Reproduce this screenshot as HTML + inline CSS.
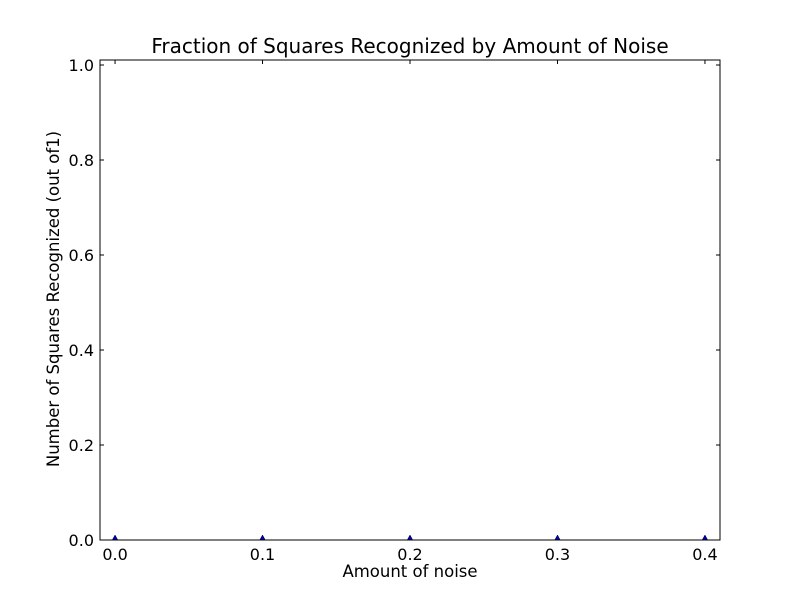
<!DOCTYPE html>
<html><head><meta charset="utf-8"><style>
body{margin:0;background:#fff;}
svg text{font-family:"DejaVu Sans","Liberation Sans",sans-serif;fill:#000;}
</style></head><body>
<svg id="chart" width="800" height="600" xmlns="http://www.w3.org/2000/svg">
<defs><clipPath id="plotclip"><rect x="100" y="60" width="620" height="480"/></clipPath></defs>
<rect width="800" height="600" fill="#fff"/>
<text x="410" y="53" font-size="20" text-anchor="middle">Fraction of Squares Recognized by Amount of Noise</text>
<text x="410" y="577" font-size="16.5" text-anchor="middle">Amount of noise</text>
<text transform="translate(59,299) rotate(-90)" font-size="16.5" text-anchor="middle">Number of Squares Recognized (out of1)</text>
<g id="ticks"></g>
<g id="marks" clip-path="url(#plotclip)"></g>
<rect x="100" y="60" width="620" height="480" fill="none" stroke="#000" stroke-width="1"/>
</svg>
<script>
const noiseLevels = [0.0, 0.1, 0.2, 0.3, 0.4];
const recognized = [0, 0, 0, 0, 0];
const xTicks = [0.0, 0.1, 0.2, 0.3, 0.4];
const yTicks = [0.0, 0.2, 0.4, 0.6, 0.8, 1.0];
const X0=100,X1=720,Y0=540,Y1=60;
const xMin=-0.0102,xMax=0.4102,yMin=0,yMax=1.0105;
function sx(v){return X0+(v-xMin)/(xMax-xMin)*(X1-X0);}
function sy(v){return Y0-(v-yMin)/(yMax-yMin)*(Y0-Y1);}
const NS="http://www.w3.org/2000/svg";
function mk(t,a){const e=document.createElementNS(NS,t);for(const k in a)e.setAttribute(k,a[k]);return e;}
const tg=document.getElementById('ticks');
xTicks.forEach(v=>{
  const x=sx(v);
  const l1=mk('line',{x1:x,x2:x,y1:Y0,y2:Y0-4,stroke:'#000'});
  
  
  tg.appendChild(l1);
  const l2=mk('line',{x1:x,x2:x,y1:Y1,y2:Y1+4,stroke:'#000'});
  
  
  tg.appendChild(l2);
  const t=mk('text',{x:x,y:Y0+20,'font-size':16,'text-anchor':'middle'});
  t.textContent=v.toFixed(1);
  
  
  tg.appendChild(t);
});
yTicks.forEach(v=>{
  const y=sy(v);
  const l1=mk('line',{x1:X0,x2:X0+4,y1:y,y2:y,stroke:'#000'});
  
  
  tg.appendChild(l1);
  const l2=mk('line',{x1:X1,x2:X1-4,y1:y,y2:y,stroke:'#000'});
  
  
  tg.appendChild(l2);
  const t=mk('text',{x:X0-6,y:y+6,'font-size':16,'text-anchor':'end'});
  t.textContent=v.toFixed(1);
  
  
  tg.appendChild(t);
});
const mg=document.getElementById('marks');
const pts=noiseLevels.map((v,i)=>sx(v)+','+sy(recognized[i])).join(' ');
const line=mk('polyline',{points:pts,fill:'none',stroke:'#0000ff','stroke-width':1});


mg.appendChild(line);
noiseLevels.forEach((v,i)=>{
  const x=sx(v),y=sy(recognized[i]);
  const p=mk('polygon',{points:`${x},${y-5} ${x-5},${y+4} ${x+5},${y+4}`,fill:'#0000bf',stroke:'#000','stroke-width':0.5});
  
  
  mg.appendChild(p);
});
</script>
</body></html>
